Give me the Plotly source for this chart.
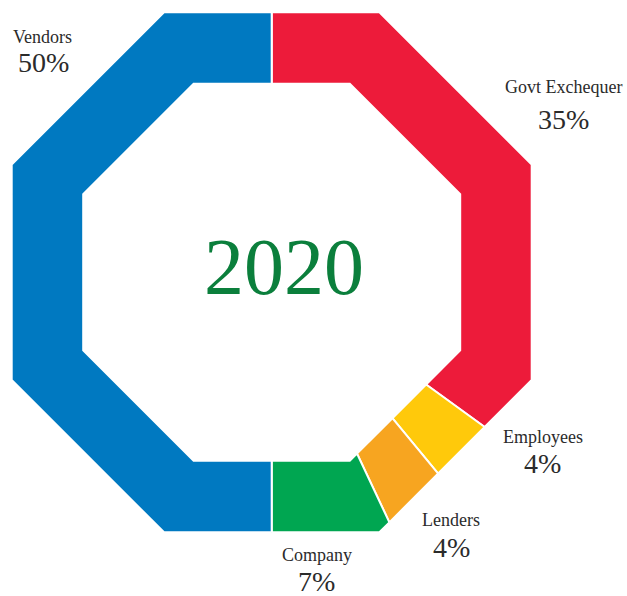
import math
import plotly.graph_objects as go

# Shares of the 2020 value distribution (percent), drawn clockwise from the top
categories = ["Govt Exchequer", "Employees", "Lenders", "Company", "Vendors"]
shares = [35, 4, 4, 7, 50]
colors = ["#ED1B3A", "#FFC90B", "#F7A520", "#00A651", "#0079C1"]
year_label = "2020"

# Octagon ring geometry (in units of the outer apothem)
OUTER = 1.0
INNER = 0.725
W, H = 627, 596
CX_PX, CY_PX = 271.7, 272.3   # ring centre, pixels from the top-left
PX_PER_UNIT = 260.0


def octagon_radius(theta_deg, apothem):
    # distance from centre to a flat-topped octagon edge along direction theta
    normal = round(theta_deg / 45.0) * 45.0
    return apothem / math.cos(math.radians(theta_deg - normal))


def ring_segment(start_pct, end_pct):
    a0 = 90.0 - 3.6 * start_pct
    a1 = 90.0 - 3.6 * end_pct
    angles = [a0]
    # octagon corners lie at 22.5 + 45k degrees
    k_hi = math.floor((a0 - 22.5) / 45.0)
    k_lo = math.ceil((a1 - 22.5) / 45.0)
    for k in range(k_hi, k_lo - 1, -1):
        v = 22.5 + 45.0 * k
        if a1 < v < a0:
            angles.append(v)
    angles.append(a1)
    xs, ys = [], []
    for a in angles:
        r = octagon_radius(a, OUTER)
        xs.append(r * math.cos(math.radians(a)))
        ys.append(r * math.sin(math.radians(a)))
    for a in reversed(angles):
        r = octagon_radius(a, INNER)
        xs.append(r * math.cos(math.radians(a)))
        ys.append(r * math.sin(math.radians(a)))
    xs.append(xs[0])
    ys.append(ys[0])
    return xs, ys


fig = go.Figure()
cum = 0.0
for name, val, col in zip(categories, shares, colors):
    xs, ys = ring_segment(cum, cum + val)
    cum += val
    fig.add_trace(go.Scatter(
        x=xs, y=ys, mode="lines", fill="toself", fillcolor=col,
        line=dict(color="white", width=2),
        name=name, hoveron="fills", text=f"{name}: {val}%", hoverinfo="text",
        showlegend=False,
    ))

# Label placement (pixel centres for name line and percentage line)
label_pos = {
    "Vendors": ((42, 37), (43, 62)),
    "Govt Exchequer": ((563, 87), (563, 120)),
    "Employees": ((543, 437), (542, 463)),
    "Lenders": ((451, 520), (451, 547)),
    "Company": ((317, 555), (316, 581)),
}

TEXT_FONT = "Liberation Serif, Times New Roman, serif"
annotations = []
for name, val in zip(categories, shares):
    (nx, ny), (px, py) = label_pos[name]
    annotations.append(dict(
        x=nx / W, y=1 - ny / H, xref="paper", yref="paper",
        text=name, showarrow=False, xanchor="center", yanchor="middle",
        font=dict(family=TEXT_FONT, size=18, color="#2B2B2B"),
    ))
    annotations.append(dict(
        x=px / W, y=1 - py / H, xref="paper", yref="paper",
        text=f"{val}%", showarrow=False, xanchor="center", yanchor="middle",
        font=dict(family=TEXT_FONT, size=28, color="#2B2B2B"),
    ))

annotations.append(dict(
    x=283.5 / W, y=1 - 267 / H, xref="paper", yref="paper",
    text=year_label, showarrow=False, xanchor="center", yanchor="middle",
    font=dict(family=TEXT_FONT, size=80, color="#0B7F3C"),
))

fig.update_layout(
    width=W, height=H,
    margin=dict(l=0, r=0, t=0, b=0),
    paper_bgcolor="white", plot_bgcolor="white",
    xaxis=dict(range=[-CX_PX / PX_PER_UNIT, (W - CX_PX) / PX_PER_UNIT],
               visible=False, fixedrange=True),
    yaxis=dict(range=[-(H - CY_PX) / PX_PER_UNIT, CY_PX / PX_PER_UNIT],
               visible=False, fixedrange=True),
    annotations=annotations,
    showlegend=False,
)

fig.write_html("out.html")
